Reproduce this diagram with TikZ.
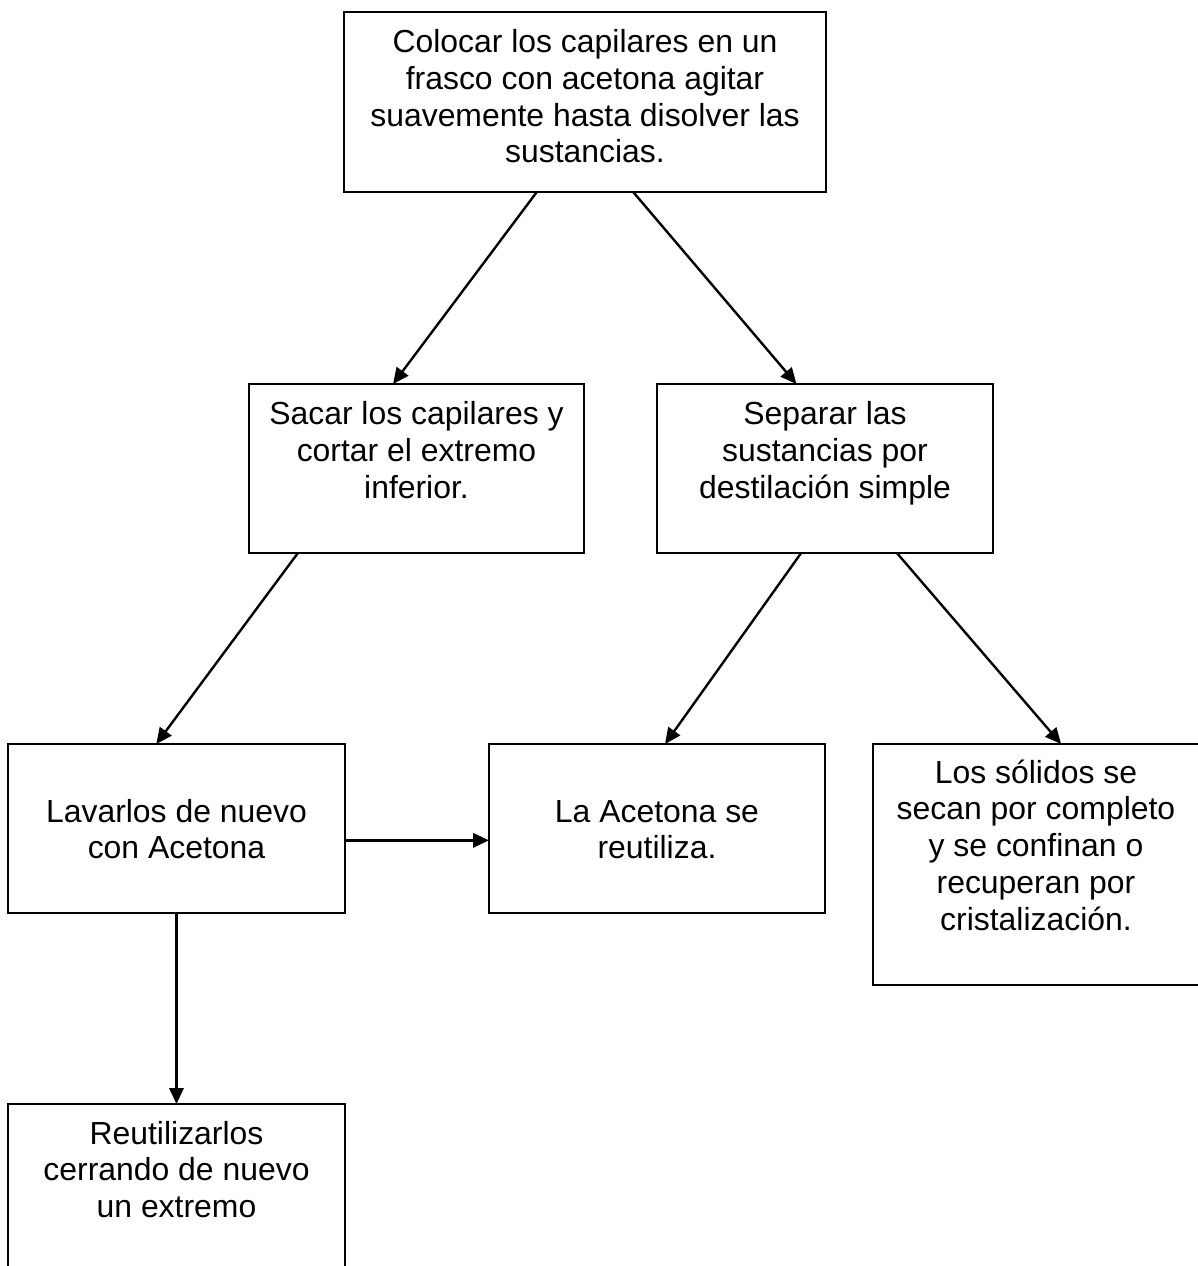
\documentclass[tikz,border=0pt]{standalone}
\usepackage{fontspec}
\setmainfont{Liberation Sans}
\usetikzlibrary{calc,arrows.meta}
\begin{document}
\begin{tikzpicture}[x=0.376pt,y=-0.376pt,
  box/.style={draw,line width=1pt,inner sep=0pt,outer sep=0pt,anchor=north west},
  txt/.style={anchor=north,align=center,inner sep=0pt,font=\fontsize{12pt}{13.8pt}\selectfont},
  arr/.style={line width=0.9pt,-{Triangle[length=6pt,width=5.4pt]}}]
\useasboundingbox (0,0) rectangle (1198,1266);
\clip (0,0) rectangle (1198,1266);

% boxes (minimum sizes in px units of 0.376pt)
\node[box,minimum width={482*0.376pt},minimum height={180*0.376pt}] (b1) at (344,12) {};
\node[box,minimum width={335*0.376pt},minimum height={169*0.376pt}] (b2) at (249,384) {};
\node[box,minimum width={336*0.376pt},minimum height={169*0.376pt}] (b3) at (657,384) {};
\node[box,minimum width={337*0.376pt},minimum height={169*0.376pt}] (b4) at (8,744) {};
\node[box,minimum width={336*0.376pt},minimum height={169*0.376pt}] (b5) at (489,744) {};
\node[box,minimum width={330*0.376pt},minimum height={241*0.376pt}] (b6) at (873,744) {};
\node[box,minimum width={337*0.376pt},minimum height={220*0.376pt}] (b7) at (8,1104) {};

% texts
\node[txt] (t1) at (585,26.5) {\strut Colocar los capilares en un\\frasco con acetona agitar\\suavemente hasta disolver las\\sustancias.};
\node[txt] (t2) at (416.5,398.5) {\strut Sacar los capilares y\\cortar el extremo\\inferior.};
\node[txt] (t3) at (825,398.5) {\strut Separar las\\sustancias por\\destilación simple};
\node[txt] (t4) at (176.5,796) {\strut Lavarlos de nuevo\\con Acetona};
\node[txt] (t5) at (657,796) {\strut La Acetona se\\reutiliza.};
\node[txt] (t6) at (1036,757) {\strut Los sólidos se\\secan por completo\\y se confinan o\\recuperan por\\cristalización.};
\node[txt] (t7) at (176.5,1118) {\strut Reutilizarlos\\cerrando de nuevo\\un extremo};

% connectors
\draw[arr] ($(b1.south west)!0.40!(b1.south east)$) -- ($(b2.north west)!0.43!(b2.north east)$);
\draw[arr] ($(b1.south west)!0.60!(b1.south east)$) -- ($(b3.north west)!0.415!(b3.north east)$);
\draw[arr] ($(b2.south west)!0.146!(b2.south east)$) -- ($(b4.north west)!0.44!(b4.north east)$);
\draw[arr] ($(b3.south west)!0.429!(b3.south east)$) -- ($(b5.north west)!0.524!(b5.north east)$);
\draw[arr] ($(b3.south west)!0.714!(b3.south east)$) -- ($(b6.north west)!0.57!(b6.north east)$);
\coordinate (h) at ($(b4.north east)!0.57!(b4.south east)$);
\draw[arr] (h) -- (h -| b5.west);
\draw[arr] (b4.south) -- (b7.north);
\end{tikzpicture}
\end{document}
